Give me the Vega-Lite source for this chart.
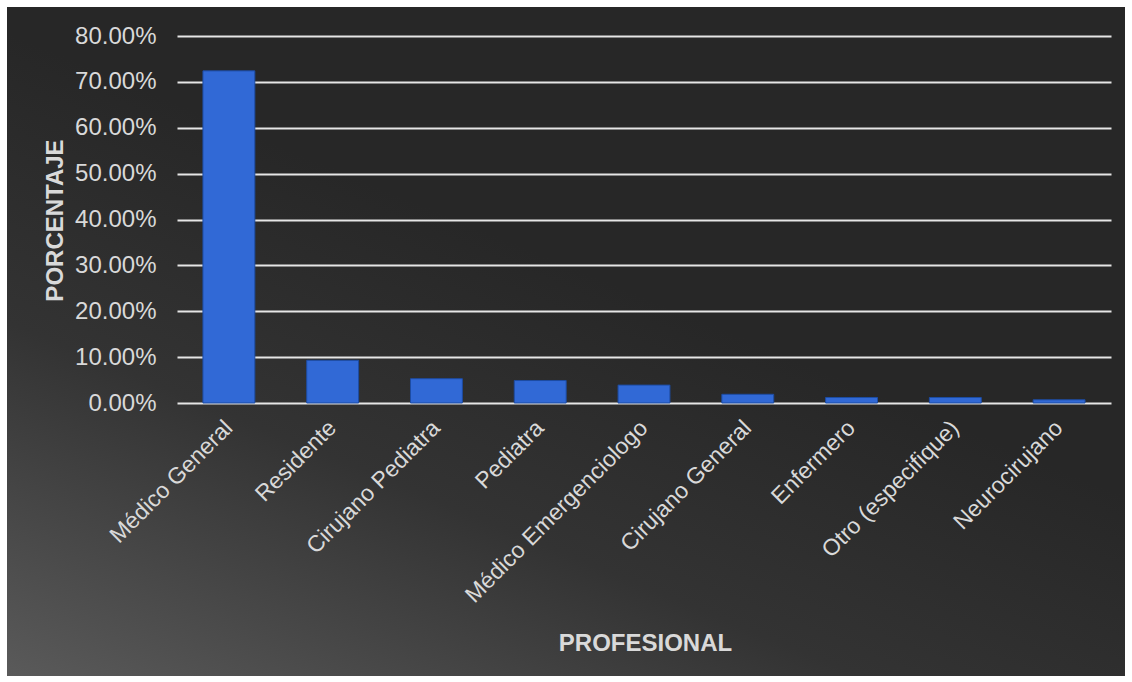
{
  "$schema": "https://vega.github.io/schema/vega-lite/v6.json",
  "width": 1118,
  "height": 669,
  "autosize": "none",
  "padding": 7,
  "background": "white",
  "config": {
    "view": {
      "stroke": null,
      "fill": {
        "gradient": "linear",
        "x1": 0, "y1": 1, "x2": 0.45, "y2": 0.35,
        "stops": [
          {"offset": 0, "color": "#5a5a5a"},
          {"offset": 0.55, "color": "#333333"},
          {"offset": 1, "color": "#272727"}
        ]
      }
    },
    "font": "Liberation Sans"
  },
  "data": {
    "values": [
      {"profesional": "Médico General", "pct": 0.724},
      {"profesional": "Residente", "pct": 0.093},
      {"profesional": "Cirujano Pediatra", "pct": 0.053},
      {"profesional": "Pediatra", "pct": 0.049},
      {"profesional": "Médico Emergenciologo", "pct": 0.039},
      {"profesional": "Cirujano General", "pct": 0.019},
      {"profesional": "Enfermero", "pct": 0.012},
      {"profesional": "Otro (especifique)", "pct": 0.012},
      {"profesional": "Neurocirujano", "pct": 0.007}
    ]
  },
  "mark": {"type": "bar", "fill": "#3169d6", "stroke": "#1d4ca3", "strokeWidth": 1},
  "encoding": {
    "x": {
      "field": "profesional",
      "type": "nominal",
      "sort": null,
      "scale": {"range": [170, 1104], "paddingInner": 0.5, "paddingOuter": 0.25},
      "axis": {
        "title": "PROFESIONAL",
        "titleFont": "Liberation Sans",
        "titleFontSize": 24,
        "titleFontWeight": "bold",
        "titleColor": "#d9d9d9",
        "titleX": 638,
        "titleY": 240,
        "titleBaseline": "middle",
        "offset": -273,
        "domain": false,
        "ticks": false,
        "tickSize": 0,
        "labelAngle": -45,
        "labelAlign": "right",
        "labelBaseline": "middle",
        "labelPadding": 21,
        "labelFontSize": 23,
        "labelColor": "#d9d9d9",
        "labelOverlap": false,
        "labelLimit": 400
      }
    },
    "y": {
      "field": "pct",
      "type": "quantitative",
      "scale": {"domain": [0, 0.8], "range": [396, 29], "nice": false},
      "axis": {
        "title": "PORCENTAJE",
        "titleFont": "Liberation Sans",
        "titleFontSize": 24,
        "titleFontWeight": "bold",
        "titleColor": "#d9d9d9",
        "titleX": -107,
        "titleY": 213,
        "titleAngle": -90,
        "titleBaseline": "middle",
        "titleAlign": "center",
        "offset": -155,
        "values": [0, 0.1, 0.2, 0.3, 0.4, 0.5, 0.6, 0.7, 0.8],
        "format": ".2%",
        "domain": false,
        "ticks": false,
        "tickSize": 0,
        "labelPadding": 6,
        "labelFontSize": 24,
        "labelColor": "#d9d9d9",
        "grid": true,
        "gridColor": "#e6e6e6",
        "gridWidth": 2
      }
    }
  }
}
